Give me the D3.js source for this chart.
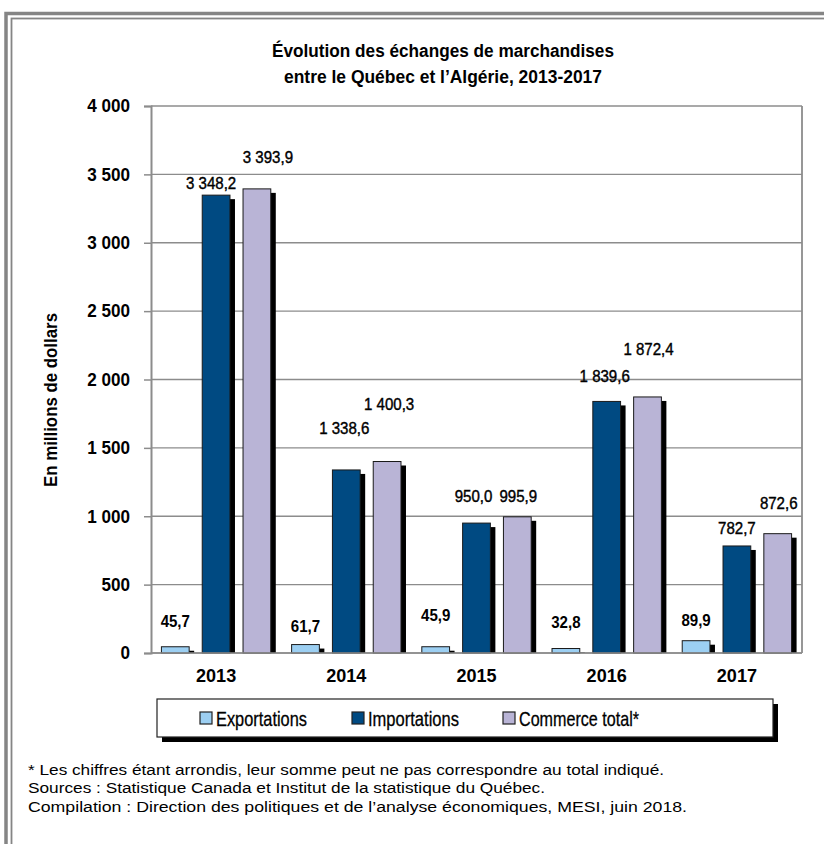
<!DOCTYPE html>
<html><head><meta charset="utf-8">
<script src="https://cdn.jsdelivr.net/npm/d3@7"></script>
<style>
html,body{margin:0;padding:0;background:#fff;}
text{font-family:"Liberation Sans",Arial,sans-serif;fill:#000;}
</style></head>
<body>
<svg id="chart" width="824" height="844"></svg>
<script>
// ---- data ----
const years = ["2013", "2014", "2015", "2016", "2017"];
const seriesNames = ["Exportations", "Importations", "Commerce total*"];
const exportations = [45.7, 61.7, 45.9, 32.8, 89.9];
const importations = [3348.2, 1338.6, 950.0, 1839.6, 782.7];
const commerceTotal = [3393.9, 1400.3, 995.9, 1872.4, 872.6];
const yTicks = [0, 500, 1000, 1500, 2000, 2500, 3000, 3500, 4000];
const titleLines = ["Évolution des échanges de marchandises", "entre le Québec et l’Algérie, 2013-2017"];
const yTitle = "En millions de dollars";
const notes = [
  "* Les chiffres étant arrondis, leur somme peut ne pas correspondre au total indiqué.",
  "Sources : Statistique Canada et Institut de la statistique du Québec.",
  "Compilation : Direction des politiques et de l’analyse économiques, MESI, juin 2018."
];

// ---- layout / style ----
const colors = ["#9ccff2", "#004a82", "#b9b4d6"];
const labelLift = [[26, 19, 32, 27, 21], [12, 42, 27, 25, 18], [32, 58, 21, 48, 31]];
const labelShift = [[0, 0, 0, 0, 0], [-5, -2, -3, -2, 0], [11, 2, 1, 1, 1]];
const fmt = v => {
  const s = v.toFixed(1).replace(".", ",");
  const [ip, dp] = s.split(",");
  return ip.replace(/\B(?=(\d{3})+(?!\d))/g, " ") + "," + dp;
};
const fmtTick = v => String(v).replace(/\B(?=(\d{3})+(?!\d))/g, " ");
function squeeze(sel, factor) {
  sel.each(function () {
    const w = this.getComputedTextLength();
    d3.select(this).attr("textLength", w * factor).attr("lengthAdjust", "spacingAndGlyphs");
  });
}
function fit(sel, w) {
  sel.attr("textLength", w).attr("lengthAdjust", "spacingAndGlyphs");
}

const svg = d3.select("#chart");
const L = 151, R = 802, T = 106, B = 653;

// frame
svg.append("rect").attr("x", 6).attr("y", 13.5).attr("width", 830).attr("height", 850)
  .attr("fill", "none").attr("stroke", "#858585").attr("stroke-width", 3.5);
svg.append("rect").attr("x", 11.5).attr("y", 18.5).attr("width", 830).attr("height", 850)
  .attr("fill", "none").attr("stroke", "#858585").attr("stroke-width", 1.8);

// title
const t1 = svg.append("text").attr("x", 443).attr("y", 57).attr("text-anchor", "middle")
  .style("font-size", "18px").style("font-weight", "bold").text(titleLines[0]);
const t2 = svg.append("text").attr("x", 443).attr("y", 83).attr("text-anchor", "middle")
  .style("font-size", "18px").style("font-weight", "bold").text(titleLines[1]);
fit(t1, 342); fit(t2, 318);

const y = d3.scaleLinear().domain([0, 4000]).range([B, T]);
const x0 = d3.scaleBand().domain(years).range([L, R]).paddingInner(0.16).paddingOuter(0.08);
const x1 = d3.scaleBand().domain(seriesNames).range([0, x0.bandwidth()]).paddingInner(0.32);

// gridlines
svg.append("g").selectAll("line").data(yTicks).join("line")
  .attr("x1", L).attr("x2", R).attr("y1", d => y(d)).attr("y2", d => y(d))
  .attr("stroke", "#8c8c8c").attr("stroke-width", 1.3);
// right border
svg.append("line").attr("x1", R).attr("x2", R).attr("y1", T).attr("y2", B)
  .attr("stroke", "#8c8c8c").attr("stroke-width", 1.8);

// y axis
const yAxis = d3.axisLeft(y).tickValues(yTicks).tickSize(7).tickPadding(14).tickFormat(fmtTick);
const gy = svg.append("g").attr("transform", `translate(${L},0)`).call(yAxis);
gy.attr("font-family", null).attr("font-size", null);
gy.select(".domain").attr("stroke", "#8c8c8c").attr("stroke-width", 2);
gy.selectAll(".tick line").attr("stroke", "#8c8c8c").attr("stroke-width", 1.5);
gy.selectAll(".tick text").style("font-size", "18px").style("font-weight", "bold").attr("fill", "#000");
squeeze(gy.selectAll(".tick text"), 0.95);

// y title
const yt = svg.append("text").attr("transform", "translate(57,400) rotate(-90)").attr("text-anchor", "middle")
  .style("font-size", "17.5px").style("font-weight", "bold").text(yTitle);
fit(yt, 174);

// x axis labels
const xAxis = d3.axisBottom(x0).tickSize(0).tickPadding(16);
const gx = svg.append("g").attr("transform", `translate(0,${B})`).call(xAxis);
gx.attr("font-family", null).attr("font-size", null);
gx.select(".domain").remove();
gx.selectAll(".tick text").style("font-size", "19px").style("font-weight", "bold").attr("fill", "#000");
squeeze(gx.selectAll(".tick text"), 0.95);

// bars
const allSeries = [exportations, importations, commerceTotal];
const barData = [];
allSeries.forEach((vals, si) => vals.forEach((v, yi) => barData.push({si, yi, v})));

const bx = d => x0(years[d.yi]) + x1(seriesNames[d.si]);
svg.append("g").selectAll("rect").data(barData).join("rect")
  .attr("x", d => bx(d) + 5).attr("y", d => y(d.v) + 4)
  .attr("width", x1.bandwidth()).attr("height", d => Math.max(0, B - y(d.v) - 4))
  .attr("fill", "#000");
svg.append("g").selectAll("rect").data(barData).join("rect")
  .attr("x", d => bx(d)).attr("y", d => y(d.v))
  .attr("width", x1.bandwidth()).attr("height", d => B - y(d.v))
  .attr("fill", d => colors[d.si]).attr("stroke", "#1a1a1a").attr("stroke-width", 1);

// baseline
svg.append("line").attr("x1", L).attr("x2", R).attr("y1", B).attr("y2", B)
  .attr("stroke", "#8c8c8c").attr("stroke-width", 1.5);

// value labels
const vl = svg.append("g").selectAll("text").data(barData).join("text")
  .attr("x", d => bx(d) + x1.bandwidth() / 2 + labelShift[d.si][d.yi])
  .attr("y", d => y(d.v) - labelLift[d.si][d.yi] + 6)
  .attr("text-anchor", "middle")
  .style("font-size", "16px").style("font-weight", d => d.si === 0 ? "bold" : "normal")
  .style("stroke", d => d.si === 0 ? "none" : "#000").style("stroke-width", 0.4)
  .text(d => fmt(d.v));
squeeze(vl, 0.94);

// legend
const lg = svg.append("g");
lg.append("rect").attr("x", 162).attr("y", 704).attr("width", 616).attr("height", 38).attr("fill", "#000");
lg.append("rect").attr("x", 157).attr("y", 699).attr("width", 616).attr("height", 38)
  .attr("fill", "#fff").attr("stroke", "#222").attr("stroke-width", 1.2);
const legX = [200, 352, 503];
const legW = [91, 91, 120];
seriesNames.forEach((n, i) => {
  lg.append("rect").attr("x", legX[i]).attr("y", 712).attr("width", 12).attr("height", 12)
    .attr("fill", colors[i]).attr("stroke", "#222").attr("stroke-width", 1.2);
  const tx = lg.append("text").attr("x", legX[i] + 16).attr("y", 726).style("font-size", "21px")
    .style("stroke", "#000").style("stroke-width", 0.3).text(n);
  fit(tx, legW[i]);
});

// notes
const noteW = [636, 517, 659];
notes.forEach((t, i) => {
  const tx = svg.append("text").attr("x", 28).attr("y", 775 + i * 18.3).style("font-size", "15.5px").text(t);
  fit(tx, noteW[i]);
});
</script>
</body></html>
